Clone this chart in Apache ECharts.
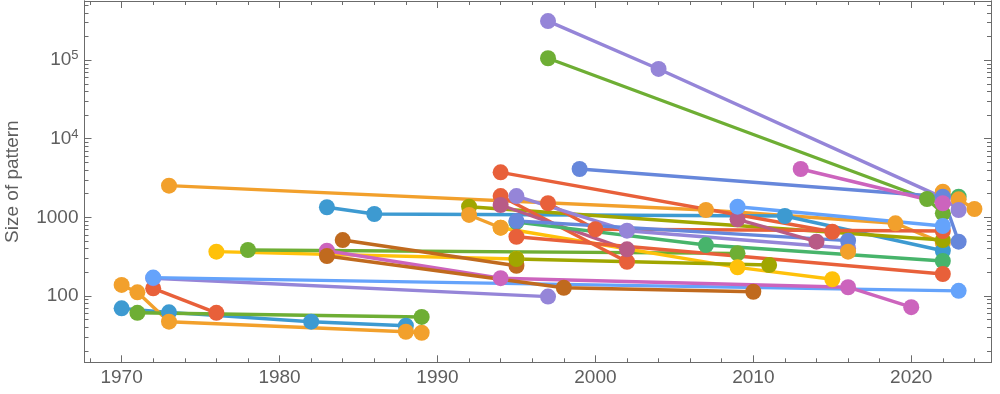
<!DOCTYPE html>
<html>
<head>
<meta charset="utf-8">
<script src="https://cdn.jsdelivr.net/npm/echarts@6/dist/echarts.min.js"></script>
<style>
html,body{margin:0;padding:0;background:#fff;}
#chart{width:1000px;height:394px;}
</style>
</head>
<body>
<div id="chart"></div>
<script>
// ---- tick values ----
const xMajorTicks = [1970, 1980, 1990, 2000, 2010, 2020];
const xMinorTicks = [1968, 1972, 1974, 1976, 1978, 1982, 1984, 1986, 1988, 1992, 1994, 1996, 1998,
  2002, 2004, 2006, 2008, 2012, 2014, 2016, 2018, 2022, 2024];
const yMajorTicks = [100, 1000, 10000, 100000];
const yMinorTicks = [20, 30, 40, 50, 60, 70, 80, 90,
  200, 300, 400, 500, 600, 700, 800, 900,
  2000, 3000, 4000, 5000, 6000, 7000, 8000, 9000,
  20000, 30000, 40000, 50000, 60000, 70000, 80000, 90000,
  200000, 300000, 400000, 500000];

// ---- series data: [year, size] ----
const s01 = [[1970, 69.5], [1973, 61.8], [1982, 47], [1988, 41.8]];
const s02 = [[1970, 138], [1971, 111], [1973, 47], [1988, 35], [1989, 34]];
const s03 = [[1971, 61], [1989, 54]];
const s04 = [[1972, 125], [1976, 61]];
const s05 = [[1972, 168], [1997, 98]];
const s06 = [[1972, 171], [2023, 116]];
const s07 = [[1973, 2530], [2007, 1240], [2019, 840], [2022, 470]];
const s08 = [[1976, 366], [1995, 295]];
const s09 = [[1978, 384], [2009, 348]];
const s10 = [[1983, 1343], [1986, 1102], [2012, 1040], [2022, 376]];
const s11 = [[1983, 376], [1994, 168], [2016, 129], [2020, 72]];
const s12 = [[1983, 322], [1998, 127], [2010, 113]];
const s13 = [[1984, 514], [1995, 242]];
const s14 = [[1992, 1365], [2022, 514]];
const s15 = [[1994, 738], [2009, 231], [2015, 163]];
const s16 = [[1992, 1072], [1994, 738]];
const s17 = [[1994, 3740], [2015, 656]];
const s18 = [[1994, 1866], [2002, 272]];
const s19 = [[1994, 1435], [2002, 392]];
const s20 = [[1997, 1510], [2000, 705], [2022, 670]];
const s21 = [[1995, 1866], [2002, 676], [2016, 404]];
const s22 = [[1995, 870], [2007, 444], [2022, 278]];
const s23 = [[1995, 897], [2016, 505]];
const s24 = [[1995, 566], [2022, 190]];
const s25 = [[1995, 295], [2011, 247]];
const s34 = [[2023, 1830]];
const s33 = [[2022, 2120], [2023, 1695], [2024, 1276]];
const s26 = [[1997, 314000], [2004, 77300], [2022, 1780], [2023, 1240]];
const s27 = [[1997, 105700], [2021, 1710], [2022, 1125]];
const s28 = [[1999, 4120], [2022, 1830], [2023, 490]];
const s29 = [[2009, 944], [2014, 490]];
const s30 = [[2009, 1365], [2022, 776]];
const s31 = [[2013, 4120], [2022, 1510]];
const s32 = [[2016, 366]];

// ---- colours ----
const C = {
  steel: '#3d9ad1', orange: '#f2a02c', green: '#6eae34', red: '#e8603a',
  purple: '#9585d8', brown: '#c06a1e', yellow: '#ffc10a', magenta: '#cc64bd',
  olive: '#a0a600', corn: '#65a3fb', peri: '#6687db', rose: '#b85b86', green2: '#47b46b'
};

const seriesList = [
  [s01, C.steel], [s02, C.orange], [s03, C.green], [s04, C.red], [s05, C.purple],
  [s06, C.corn], [s07, C.orange], [s08, C.yellow], [s09, C.green], [s10, C.steel],
  [s11, C.magenta], [s12, C.brown], [s13, C.brown], [s14, C.olive], [s15, C.yellow],
  [s16, C.orange], [s17, C.red], [s18, C.red], [s19, C.rose], [s20, C.red],
  [s21, C.purple], [s22, C.green2], [s23, C.peri], [s24, C.red], [s25, C.olive],
  [s34, C.green2], [s33, C.orange], [s26, C.purple], [s27, C.green], [s28, C.peri],
  [s29, C.rose], [s30, C.corn], [s31, C.magenta], [s32, C.orange]
];

const X_MIN = 1967.65, X_MAX = 2025.05;
const Y_MIN = 14.3, Y_MAX = 566000;
const AX = '#6b6b6b';
const TXT = '#5e5e5e';
const FONT = 'Liberation Sans, Arial, sans-serif';

function xAx(pos, ticks, len, labels) {
  return {
    type: 'value', position: pos, min: X_MIN, max: X_MAX,
    axisLine: { show: true, onZero: false, lineStyle: { color: AX, width: 1 } },
    axisTick: { show: true, inside: true, length: len, customValues: ticks, lineStyle: { color: AX, width: 1 } },
    axisLabel: labels ? { show: true, customValues: ticks, margin: 6, fontSize: 19, fontFamily: FONT, color: TXT,
      formatter: v => String(Math.round(v)) } : { show: false },
    splitLine: { show: false }
  };
}
function yAx(pos, ticks, len, labels) {
  return {
    type: 'log', logBase: 10, position: pos, min: Y_MIN, max: Y_MAX,
    axisLine: { show: true, onZero: false, lineStyle: { color: AX, width: 1 } },
    axisTick: { show: true, inside: true, length: len, customValues: ticks, lineStyle: { color: AX, width: 1 } },
    axisLabel: labels ? {
      show: true, customValues: ticks, margin: 6, fontSize: 19, fontFamily: FONT, color: TXT,
      formatter: function (v) {
        const e = Math.round(Math.log10(v));
        if (e >= 4) return '{b|10}{s|' + e + '}';
        return String(Math.round(v));
      },
      rich: {
        b: { fontSize: 19, lineHeight: 22, fontFamily: FONT, color: TXT },
        s: { fontSize: 13, lineHeight: 14, verticalAlign: 'top', fontFamily: FONT, color: TXT }
      }
    } : { show: false },
    splitLine: { show: false },
    name: labels ? 'Size of pattern' : '',
    nameLocation: 'middle', nameGap: 62,
    nameTextStyle: { fontSize: 19, fontFamily: FONT, color: TXT }
  };
}

const series = [];
seriesList.forEach(([d, col]) => {
  series.push({
    type: 'line', data: d, xAxisIndex: 0, yAxisIndex: 0, z: 2,
    showSymbol: false, silent: true, animation: false,
    lineStyle: { color: col, width: 3.4 }
  });
});
seriesList.forEach(([d, col]) => {
  series.push({
    type: 'scatter', data: d, xAxisIndex: 0, yAxisIndex: 0, z: 3,
    symbol: 'circle', symbolSize: 16, silent: true, animation: false,
    itemStyle: { color: col, opacity: 1 }
  });
});

const chart = echarts.init(document.getElementById('chart'), null, { renderer: 'canvas' });
chart.setOption({
  animation: false,
  backgroundColor: '#ffffff',
  grid: { left: 84.5, right: 9, top: 1, height: 361.3, containLabel: false, outerBoundsMode: 'none' },
  xAxis: [
    xAx('bottom', xMajorTicks, 7, true),
    xAx('bottom', xMinorTicks, 4, false),
    xAx('top', xMajorTicks, 7, false),
    xAx('top', xMinorTicks, 4, false)
  ],
  yAxis: [
    yAx('left', yMajorTicks, 7, true),
    yAx('left', yMinorTicks, 4, false),
    yAx('right', yMajorTicks, 7, false),
    yAx('right', yMinorTicks, 4, false)
  ],
  series: series
});
</script>
</body>
</html>
